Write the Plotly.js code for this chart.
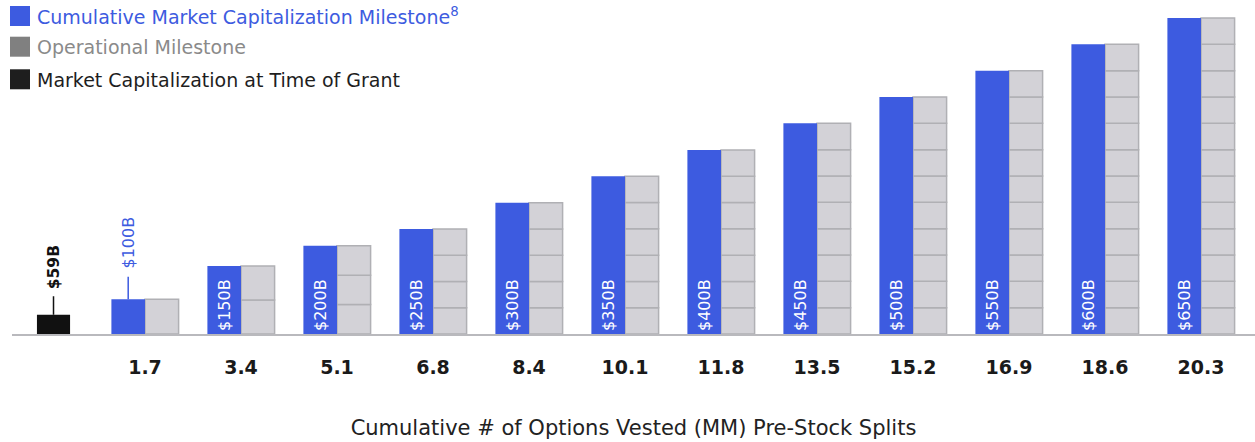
<!DOCTYPE html>
<html>
<head>
<meta charset="utf-8">
<script src="https://cdn.plot.ly/plotly-3.0.1.min.js"></script>
<style>html,body{margin:0;padding:0;background:#fff;}</style>
</head>
<body>
<div id="chart" style="width:1255px;height:442px;"></div>
<script>
// ---- data ----
const milestoneB = [100, 150, 200, 250, 300, 350, 400, 450, 500, 550, 600, 650];
const vestedMM = ['1.7', '3.4', '5.1', '6.8', '8.4', '10.1', '11.8', '13.5', '15.2', '16.9', '18.6', '20.3'];
// drawn bar heights (illustrative units, as shown in the picture)
const drawnHeight = [34.7, 68, 88.3, 105, 131.3, 157.7, 184, 210.7, 237, 263.3, 289.7, 316];
const operationalSegments = [1, 2, 3, 4, 5, 6, 7, 8, 9, 10, 11, 12];
const grantCapB = 59;
const grantHeight = 19.3;

const legendItems = ['Cumulative Market Capitalization Milestone<sup>8</sup>', 'Operational Milestone', 'Market Capitalization at Time of Grant'];

// ---- styles ----
const FONT = 'DejaVu Sans';
const BLUE = '#3d5be0';
const GRAY_FILL = '#d3d2d7';
const GRAY_LINE = '#b0b0b4';
const BLACK = '#111111';
const legendColors = [BLUE, '#808080', '#1e1e1e'];
const legendTextColors = [BLUE, '#8a8a8a', '#1e1e1e'];

const W = 1255, H = 442;
const M = {l: 12, r: 0, t: 10, b: 108};
const pxPerCat = 96;
const x0 = 1 - (145 - M.l) / pxPerCat;
const x1 = x0 + (W - M.l - M.r) / pxPerCat;
const yMax = H - M.t - M.b;
const BW = 0.35;

const cats = milestoneB.map((_, i) => i + 1);

// blue bars
const blueTrace = {
  type: 'bar', x: cats, y: drawnHeight,
  width: BW, offset: -BW,
  marker: {color: BLUE, line: {width: 0}},
  text: milestoneB.map(v => '$' + v + 'B'),
  textposition: milestoneB.map((v, i) => i === 0 ? 'none' : 'inside'),
  insidetextanchor: 'start', textangle: -90,
  insidetextfont: {family: FONT, size: 16, color: '#ffffff'},
  hoverinfo: 'skip'
};

// gray stacked operational segments
const gx = [], gy = [], gb = [];
drawnHeight.forEach((h, i) => {
  const n = operationalSegments[i];
  const seg = h / n;
  for (let k = 0; k < n; k++) {
    gx.push(i + 1); gy.push(seg); gb.push(k * seg);
  }
});
const grayTrace = {
  type: 'bar', x: gx, y: gy, base: gb,
  width: BW, offset: 0,
  marker: {color: GRAY_FILL, line: {width: 1.5, color: GRAY_LINE}},
  hoverinfo: 'skip'
};

// grant bar
const grantX = 0.047;
const grantTrace = {
  type: 'bar', x: [grantX], y: [grantHeight],
  width: 0.345, offset: -0.1725,
  marker: {color: BLACK, line: {width: 0}},
  hoverinfo: 'skip'
};

// legend drawn with shapes + annotations (pixel helpers)
const pxX = p => (p - M.l) / (W - M.l - M.r);
const pxY = p => (H - M.b - p) / yMax;
const legendRowsY = [16, 46.7, 79.3];

const shapes = legendRowsY.map((cy, i) => ({
  type: 'rect', xref: 'paper', yref: 'paper',
  x0: pxX(10), x1: pxX(30), y0: pxY(cy + 10), y1: pxY(cy - 10),
  fillcolor: legendColors[i], line: {width: 0}
}));

const annotations = legendRowsY.map((cy, i) => ({
  xref: 'paper', yref: 'paper', x: pxX(35), y: pxY(cy + 0.5),
  xanchor: 'left', yanchor: 'middle', showarrow: false,
  text: legendItems[i],
  font: {family: FONT, size: 19, color: legendTextColors[i]}
}));

// outside labels with leader lines
annotations.push({
  x: 1 - BW / 2, y: drawnHeight[0], xref: 'x', yref: 'y',
  text: '$' + milestoneB[0] + 'B', textangle: -90,
  showarrow: true, arrowhead: 0, arrowwidth: 1.5, arrowcolor: BLUE,
  ax: 0, ay: -57, borderpad: 8, standoff: 0,
  font: {family: FONT, size: 16, color: BLUE}
});
annotations.push({
  x: grantX, y: grantHeight, xref: 'x', yref: 'y',
  text: '<b>$' + grantCapB + 'B</b>', textangle: -90,
  showarrow: true, arrowhead: 0, arrowwidth: 1.5, arrowcolor: BLACK,
  ax: 0, ay: -47, borderpad: 6, standoff: 0,
  font: {family: FONT, size: 15.5, color: BLACK}
});

const layout = {
  width: W, height: H, margin: M,
  barmode: 'overlay', showlegend: false,
  plot_bgcolor: '#ffffff', paper_bgcolor: '#ffffff',
  font: {family: FONT},
  xaxis: {
    range: [x0, x1], tickmode: 'array', tickvals: cats, ticktext: vestedMM,
    showline: true, linecolor: '#b9b9bd', linewidth: 2,
    showgrid: false, zeroline: false, ticks: '',
    tickfont: {family: FONT, size: 19, color: '#1a1a1a', weight: 'bold'},
    ticklabelstandoff: 15,
    title: {text: 'Cumulative # of Options Vested (MM) Pre-Stock Splits', font: {family: FONT, size: 21, color: '#222222'}, standoff: 44},
    automargin: false, fixedrange: true
  },
  yaxis: {range: [0, yMax], visible: false, fixedrange: true},
  shapes: shapes,
  annotations: annotations
};

Plotly.newPlot('chart', [grayTrace, blueTrace, grantTrace], layout, {displayModeBar: false, staticPlot: true});
</script>
</body>
</html>
